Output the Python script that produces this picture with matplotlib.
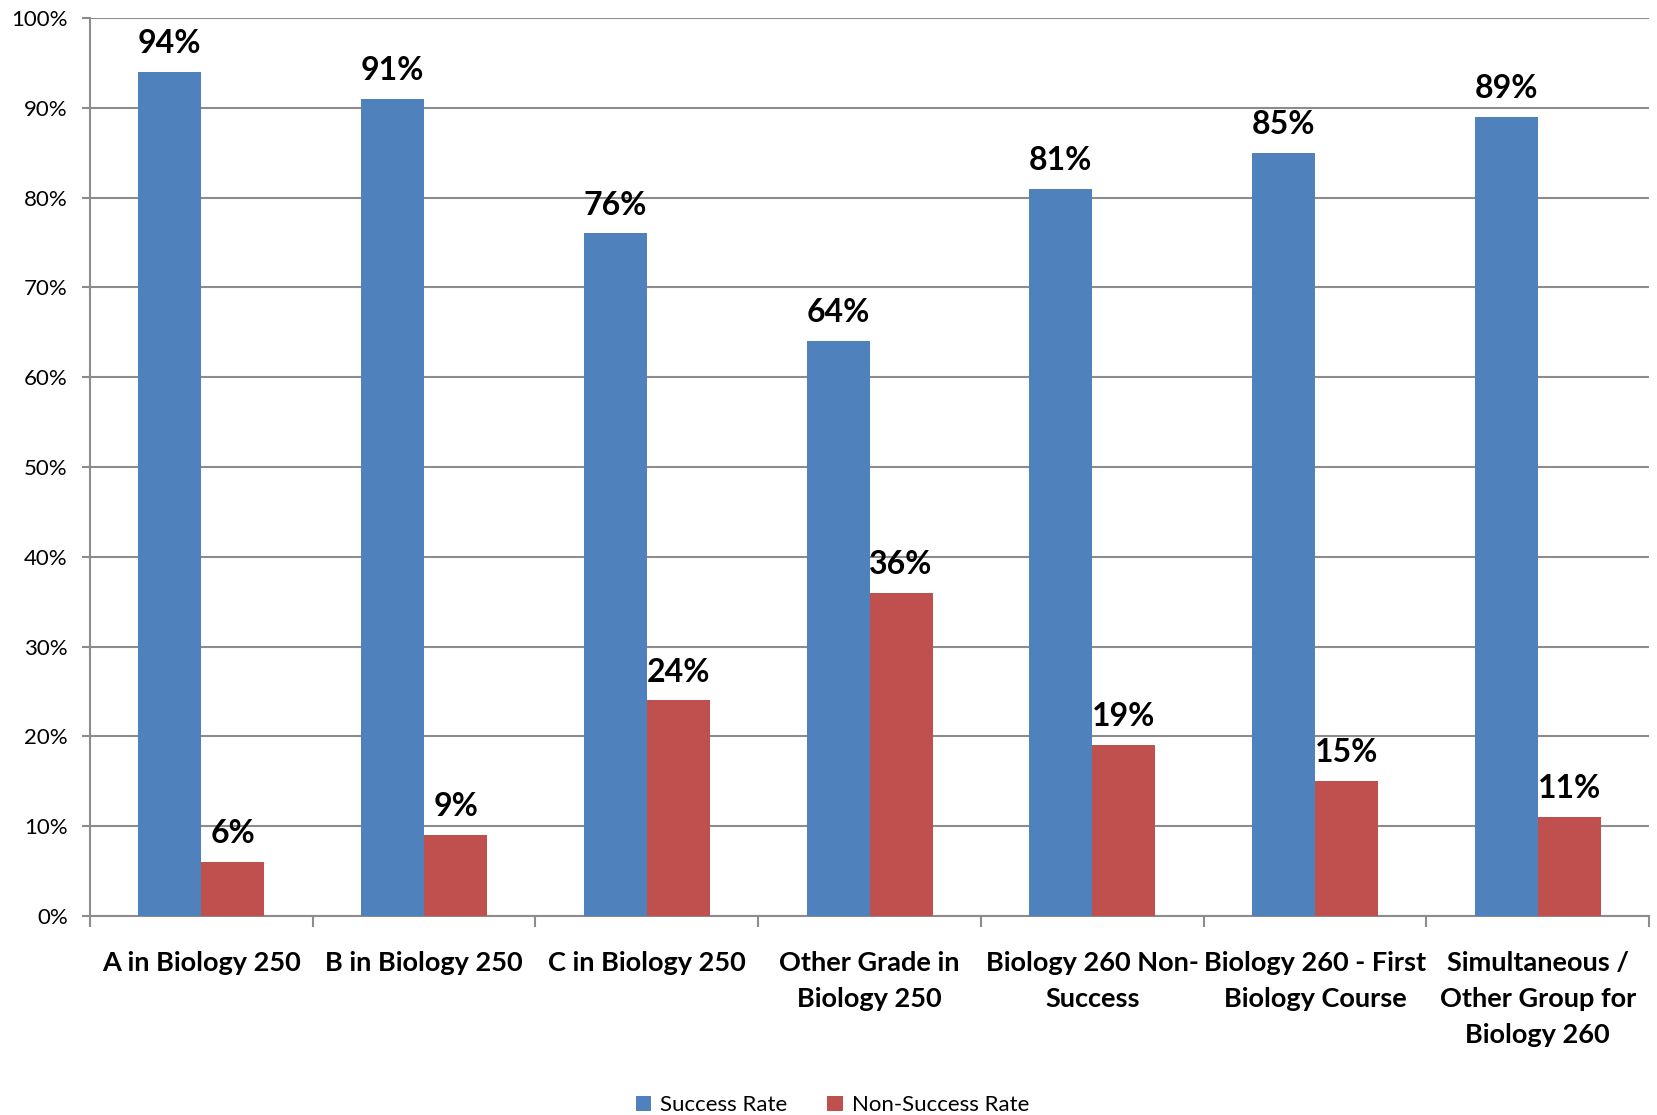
import matplotlib.pyplot as plt
import numpy as np
from matplotlib.ticker import FixedLocator, PercentFormatter

# course-group success figures for Biology 260
groups = ["A in Biology 250", "B in Biology 250", "C in Biology 250",
          "Other Grade in\nBiology 250", "Biology 260 Non-\nSuccess",
          "Biology 260 - First\nBiology Course",
          "Simultaneous /\nOther Group for\nBiology 260"]
success = [94, 91, 76, 64, 81, 85, 89]
non_success = [6, 9, 24, 36, 19, 15, 11]

BLUE = "#4F81BD"
RED = "#C0504D"
GRID = "#8C8C8C"

plt.rcParams['font.family'] = ['Lato', 'DejaVu Sans']

fig = plt.figure(figsize=(16.58, 11.15), dpi=100)
ax = fig.add_axes([0.0543, 0.1785, 0.9403, 0.8054])

x = np.arange(len(groups))
w = 0.283
b1 = ax.bar(x - w / 2, success, w, color=BLUE, label="Success Rate", zorder=3)
b2 = ax.bar(x + w / 2, non_success, w, color=RED, label="Non-Success Rate", zorder=3)

for bars, vals in ((b1, success), (b2, non_success)):
    for r, v in zip(bars, vals):
        ax.annotate(f"{v}%", (r.get_x() + r.get_width() / 2, v),
                    xytext=(0, 10), textcoords="offset points",
                    ha="center", va="bottom", fontsize=23, fontweight="bold")

ax.set_xlim(-0.5, len(groups) - 0.5)
ax.set_ylim(0, 100)
ax.yaxis.set_major_locator(FixedLocator(range(0, 101, 10)))
ax.yaxis.set_major_formatter(PercentFormatter(decimals=0))
ax.yaxis.grid(True, color=GRID, linewidth=1.5, zorder=0)
ax.tick_params(axis="y", length=6, width=1.5, color=GRID, labelsize=16, pad=10)

# boundaries get tick marks, labels sit at the category centres
ax.xaxis.set_major_locator(FixedLocator(np.arange(-0.5, len(groups), 1.0)))
ax.xaxis.set_major_formatter(plt.NullFormatter())
ax.xaxis.set_minor_locator(FixedLocator(x))
ax.set_xticklabels(groups, minor=True, fontsize=19.5, fontweight="bold",
                   linespacing=1.6, va="top")
ax.tick_params(axis="x", which="major", length=8, width=1.5, color=GRID)
ax.tick_params(axis="x", which="minor", length=0, pad=25)

for s in ("top", "right"):
    ax.spines[s].set_visible(False)
for s in ("left", "bottom"):
    ax.spines[s].set_color(GRID)
    ax.spines[s].set_linewidth(1.5)

fig.legend(handles=[b1, b2], loc="lower center", bbox_to_anchor=(0.502, -0.018),
           ncol=2, frameon=False, fontsize=16, handlelength=0.7,
           handleheight=0.7, columnspacing=1.8, handletextpad=0.4)

fig.savefig("out.png", dpi=100)
